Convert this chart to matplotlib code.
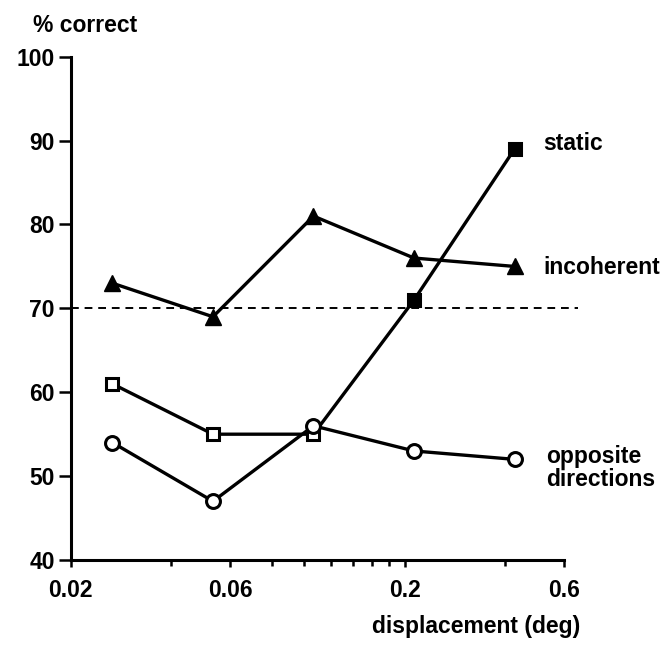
import matplotlib
matplotlib.use("Agg")
import matplotlib.pyplot as plt
from matplotlib.ticker import NullFormatter

# Displacement steps (deg): 1.6, 3.2, 6.4, 12.8, 25.6 arcmin
displacement = [1.6 / 60, 3.2 / 60, 6.4 / 60, 12.8 / 60, 25.6 / 60]

incoherent = [73, 69, 81, 76, 75]
static = [61, 55, 55, 71, 89]
static_above_chance = [False, False, False, True, True]
opposite = [54, 47, 56, 53, 52]

series_names = ["static", "incoherent", "opposite\ndirections"]

chance_level = 70
chance_span = [0.02, 0.66]

x_major = [0.02, 0.06, 0.2, 0.6]
x_major_labels = ["0.02", "0.06", "0.2", "0.6"]
x_minor = [0.04, 0.08, 0.1, 0.12, 0.14, 0.16, 0.18, 0.4]
y_ticks = [40, 50, 60, 70, 80, 90, 100]

plt.rcParams["font.family"] = ["Liberation Sans", "DejaVu Sans"]
plt.rcParams["font.weight"] = "bold"
FS = 16.5

fig = plt.figure(figsize=(6.67, 6.49), dpi=100)
ax = fig.add_axes([0.106, 0.1371, 0.7396, 0.7755])

ax.set_xscale("log")
ax.set_xlim(0.02, 0.6)
ax.set_ylim(40, 100)

lw = 2.4
black = "black"

# chance level
ax.plot(chance_span, [chance_level, chance_level], color=black, lw=1.4,
        dashes=(4, 3), clip_on=False, zorder=1)

# incoherent motion
ax.plot(displacement, incoherent, color=black, lw=lw, marker="^", ms=11.5,
        mfc=black, mec=black, clip_on=False, zorder=3)

# static
ax.plot(displacement, static, color=black, lw=lw, clip_on=False, zorder=2)
for xv, yv, filled in zip(displacement, static, static_above_chance):
    ax.plot([xv], [yv], linestyle="none", marker="s", ms=9,
            mfc=black if filled else "white", mec=black, mew=2.2,
            clip_on=False, zorder=4)

# opposite directions
ax.plot(displacement, opposite, color=black, lw=lw, marker="o", ms=10,
        mfc="white", mec=black, mew=2.2, clip_on=False, zorder=4)

# curve labels next to the last point of each series
label_offsets = [(21, 4), (21, -1), (23, -6)]
for name, ys, off in zip(series_names, [static, incoherent, opposite],
                         label_offsets):
    ax.annotate(name, xy=(displacement[-1], ys[-1]), xytext=off,
                textcoords="offset points", fontsize=FS, ha="left",
                va="center", linespacing=1.0, annotation_clip=False)

# axes styling
for side in ("top", "right"):
    ax.spines[side].set_visible(False)
for side in ("left", "bottom"):
    ax.spines[side].set_linewidth(2.2)

ax.set_yticks(y_ticks)
ax.set_yticklabels([str(v) for v in y_ticks])
ax.tick_params(axis="y", direction="out", length=8.5, width=1.8, pad=3,
               labelsize=FS)

ax.set_xticks(x_major)
ax.set_xticklabels(x_major_labels)
ax.set_xticks(x_minor, minor=True)
ax.xaxis.set_minor_formatter(NullFormatter())
ax.tick_params(axis="x", which="major", direction="out", length=5, width=1.8,
               pad=9, labelsize=FS)
ax.tick_params(axis="x", which="minor", direction="out", length=4, width=1.8)

fig.text(0.05, 1 - 26 / 649, "% correct", fontsize=FS, va="center", ha="left")
fig.text(580 / 667, 1 - 626 / 649, "displacement (deg)", fontsize=FS,
         va="center", ha="right")

fig.savefig("out.png", dpi=100)
